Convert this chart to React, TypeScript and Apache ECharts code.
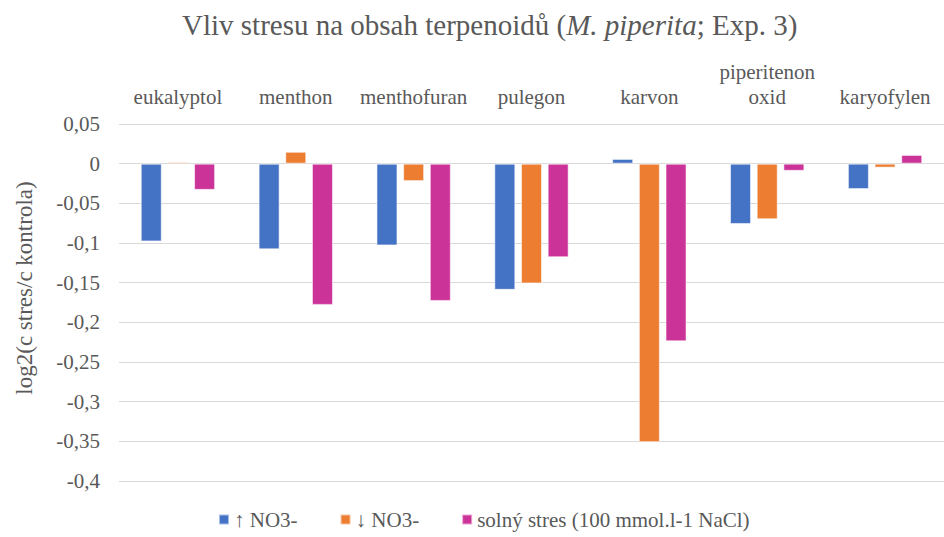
import React, { useEffect, useRef } from "react";
import * as echarts from "echarts";

const categories = ["eukalyptol", "menthon", "menthofuran", "pulegon", "karvon", "piperitenon\noxid", "karyofylen"];
const seriesNames = ["↑ NO3-", "↓ NO3-", "solný stres (100 mmol.l-1 NaCl)"];
const upNO3 = [-0.098, -0.108, -0.103, -0.159, 0.006, -0.076, -0.032];
const downNO3 = [0.002, 0.015, -0.022, -0.151, -0.351, -0.070, -0.005];
const salt = [-0.033, -0.178, -0.173, -0.118, -0.224, -0.009, 0.011];
const colors = ["#4472C4", "#ED7D31", "#CC3399"];
const yAxisTitle = "log2(c stres/c kontrola)";

const FONT = "Liberation Serif";
const GREY = "#595959";

export default function App() {
  const ref = useRef<HTMLDivElement>(null);
  useEffect(() => {
    document.body.style.margin = "0";
    const chart = echarts.init(ref.current!, undefined, { renderer: "svg" });
    const data = [upNO3, downNO3, salt];
    chart.setOption({
      animation: false,
      backgroundColor: "#ffffff",
      textStyle: { fontFamily: FONT },
      title: {
        text: "{n|Vliv stresu na obsah terpenoidů (}{i|M. piperita}{n|; Exp. 3)}",
        left: 177,
        top: 5,
        textStyle: {
          fontFamily: FONT,
          fontWeight: "normal",
          rich: {
            n: { fontFamily: FONT, fontSize: 29, fontWeight: "normal", color: GREY },
            i: { fontFamily: FONT, fontSize: 29, fontWeight: "normal", color: GREY, fontStyle: "italic" },
          },
        },
      },
      legend: {
        bottom: 2,
        left: 213,
        itemWidth: 10,
        itemHeight: 10,
        itemGap: 42,
        icon: "rect",
        textStyle: { fontFamily: FONT, fontSize: 21, color: GREY },
        data: seriesNames,
      },
      graphic: [
        {
          type: "text",
          x: 24,
          y: 288,
          rotation: Math.PI / 2,
          style: {
            text: yAxisTitle,
            fontFamily: FONT,
            fontSize: 23,
            fill: GREY,
            align: "center",
            verticalAlign: "middle",
          },
        },
      ],
      grid: { left: 119, right: -12, top: 124, bottom: 56, containLabel: false },
      xAxis: {
        type: "category",
        position: "top",
        data: categories,
        axisLine: { show: false },
        axisTick: { show: false },
        axisLabel: {
          interval: 0,
          margin: 15,
          fontFamily: FONT,
          fontSize: 21,
          color: GREY,
          lineHeight: 25,
        },
      },
      yAxis: {
        type: "value",
        min: -0.4,
        max: 0.05,
        interval: 0.05,
        axisLine: { show: false },
        axisTick: { show: false },
        axisLabel: {
          margin: 19,
          fontFamily: FONT,
          fontSize: 21,
          color: GREY,
          formatter: (v: number) => String(Math.round(v * 100) / 100).replace(".", ","),
        },
        splitLine: { lineStyle: { color: "#D9D9D9", width: 1 } },
      },
      series: seriesNames.map((name, i) => ({
        name,
        type: "bar",
        data: data[i],
        barWidth: 21,
        barGap: "27%",
        itemStyle: {
          color: colors[i],
          borderColor: "rgba(255,255,255,0.55)",
          borderWidth: 1,
        },
      })),
    });
    return () => chart.dispose();
  }, []);
  return <div ref={ref} style={{ width: 944, height: 537 }} />;
}
